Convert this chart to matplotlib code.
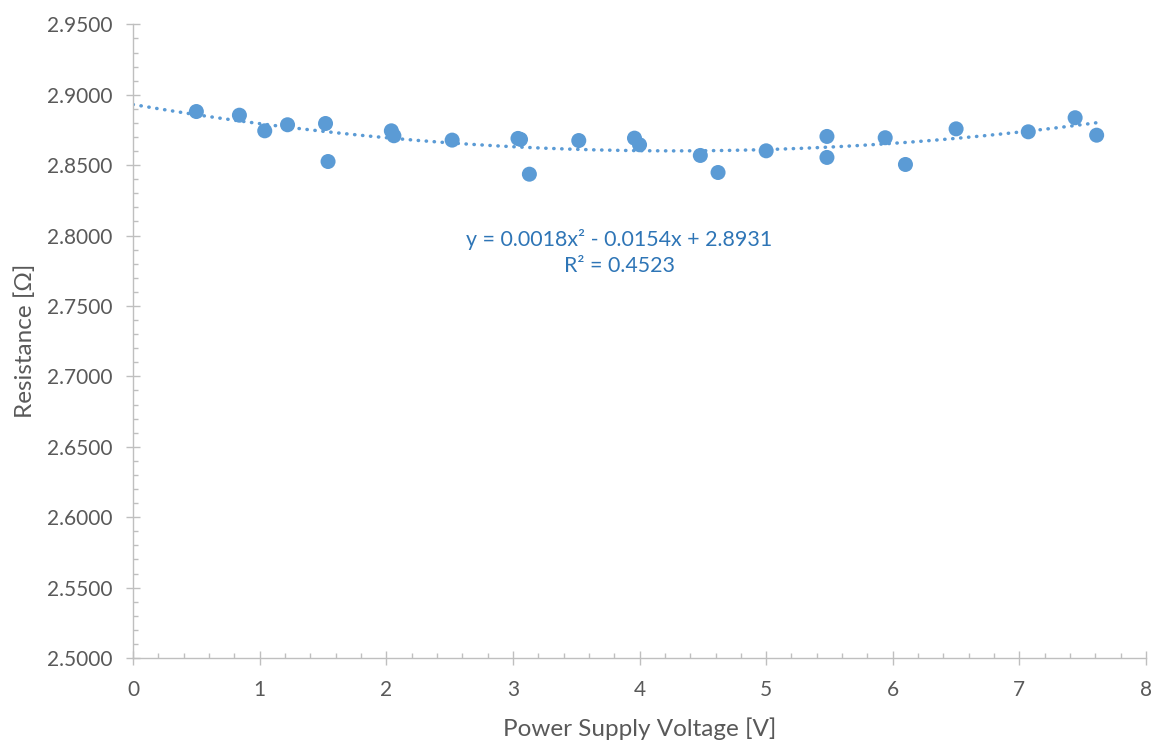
import matplotlib
matplotlib.use("Agg")
import matplotlib.pyplot as plt
from matplotlib.ticker import MultipleLocator, FormatStrFormatter
import numpy as np

plt.rcParams["font.family"] = ["Lato", "DejaVu Sans"]

# data
voltage = [0.50, 0.84, 1.04, 1.22, 1.52, 1.54, 2.04, 2.06, 2.52, 3.04, 3.06, 3.13,
           3.52, 3.96, 4.00, 4.48, 4.62, 5.00, 5.48, 5.48, 5.94, 6.10, 6.50, 7.07,
           7.44, 7.61]
resistance = [2.8881, 2.8855, 2.8744, 2.8787, 2.8796, 2.8526, 2.8744, 2.8709, 2.8678,
              2.8690, 2.8683, 2.8436, 2.8675, 2.8692, 2.8645, 2.8569, 2.8448, 2.8602,
              2.8704, 2.8555, 2.8695, 2.8505, 2.8758, 2.8737, 2.8837, 2.8713]

# polynomial trendline as shown on the chart (highest power first)
trend_coef = [0.0018, -0.0154, 2.8931]
r_squared = 0.4523

blue = "#5B9BD5"
axis_grey = "#BFBFBF"
text_grey = "#595959"

fig = plt.figure(figsize=(11.54, 7.43), dpi=100)
ax = fig.add_axes([0.1153, 0.1144, 0.9931 - 0.1153, 0.9672 - 0.1144])

xt = np.linspace(0, max(voltage), 300)
ax.plot(xt, np.polyval(trend_coef, xt), color=blue, lw=2.5,
        linestyle=(0, (0.1, 2.2)), dash_capstyle="round", zorder=2)
ax.scatter(voltage, resistance, s=117, color=blue, edgecolors="none", zorder=3)

eq = "y = {:.4f}x² - {:.4f}x + {:.4f}\nR² = {:.4f}".format(
    trend_coef[0], -trend_coef[1], trend_coef[2], r_squared)
ax.text(3.84, 2.788, eq, ha="center", va="center", color="#2E75B6",
        fontsize=15.4, linespacing=1.4)

ax.set_xlim(0, 8)
ax.set_ylim(2.5, 2.95)
ax.xaxis.set_major_locator(MultipleLocator(1))
ax.xaxis.set_minor_locator(MultipleLocator(0.2))
ax.yaxis.set_major_locator(MultipleLocator(0.05))
ax.yaxis.set_minor_locator(MultipleLocator(0.01))
ax.yaxis.set_major_formatter(FormatStrFormatter("%.4f"))

for s in ("top", "right"):
    ax.spines[s].set_visible(False)
for s in ("left", "bottom"):
    ax.spines[s].set_color(axis_grey)
    ax.spines[s].set_linewidth(1.0)

ax.tick_params(which="major", direction="inout", length=10, width=1.0,
               color=axis_grey, labelcolor=text_grey, labelsize=15)
ax.tick_params(axis="y", which="major", pad=10)
ax.tick_params(axis="x", which="major", pad=11)
ax.tick_params(which="minor", direction="in", length=3.6, width=1.0, color=axis_grey)

ax.set_xlabel("Power Supply Voltage [V]", color=text_grey, fontsize=17.5, labelpad=12)
ax.set_ylabel("Resistance [Ω]", color=text_grey, fontsize=17.5, labelpad=8)

fig.savefig("out.png", dpi=100)
